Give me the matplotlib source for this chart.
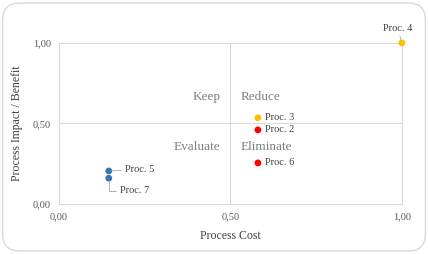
import matplotlib.pyplot as plt
from matplotlib.patches import FancyBboxPatch

# data
names = ['Proc. 4', 'Proc. 3', 'Proc. 2', 'Proc. 6', 'Proc. 5', 'Proc. 7']
cost = [1.00, 0.58, 0.58, 0.58, 0.145, 0.145]
impact = [1.00, 0.535, 0.46, 0.255, 0.205, 0.16]
colors = ['#FFC000', '#FFC000', '#FF0000', '#FF0000', '#3A74B0', '#3A74B0']
quadrants = ['Keep', 'Reduce', 'Evaluate', 'Eliminate']
ticks = [0.0, 0.5, 1.0]
tick_labels = ['0,00', '0,50', '1,00']

plt.rcParams['font.family'] = ['Liberation Serif', 'DejaVu Serif']

fig = plt.figure(figsize=(4.28, 2.54), dpi=100)
border = FancyBboxPatch((0.006, 0.012), 0.988, 0.976,
                        boxstyle='round,pad=0,rounding_size=0.04',
                        transform=fig.transFigure, fc='none', ec='#D9D9D9',
                        lw=1.0, mutation_aspect=428 / 254, zorder=-1)
fig.patches.append(border)

ax = fig.add_axes([0.138, 0.197, 0.801, 0.634])
ax.patch.set_alpha(0)
ax.set_xlim(0, 1)
ax.set_ylim(0, 1)
for s in ax.spines.values():
    s.set_color('#D9D9D9')
    s.set_linewidth(0.8)
ax.axhline(0.5, color='#D9D9D9', lw=0.8)
ax.axvline(0.5, color='#D9D9D9', lw=0.8)

ax.scatter(cost, impact, c=colors, s=15, zorder=3, clip_on=False)

ax.set_xticks(ticks)
ax.set_xticklabels(tick_labels)
ax.set_yticks(ticks)
ax.set_yticklabels(tick_labels)
ax.tick_params(length=0, labelsize=7.5, colors='#595959', pad=6)
ax.set_xlabel('Process Cost', fontsize=8.5, color='#404040', labelpad=6)
ax.set_ylabel('Process Impact / Benefit', fontsize=8.5, color='#404040', labelpad=7)

# quadrant labels
qpos = [(0.47, 0.665, 'right'), (0.53, 0.665, 'left'),
        (0.47, 0.355, 'right'), (0.53, 0.355, 'left')]
for q, (x, y, ha) in zip(quadrants, qpos):
    ax.text(x, y, q, ha=ha, va='center', fontsize=9.5, color='#7F7F7F')

# point labels
tc = '#404040'
fs = 7.5
ax.annotate(names[0], (cost[0], impact[0]), xytext=(-3, 7), textcoords='offset points',
            ha='center', va='bottom', fontsize=fs, color=tc,
            arrowprops=dict(arrowstyle='-', color='#A6A6A6', lw=0.6, shrinkA=0, shrinkB=2))
for i in (1, 2, 3):
    ax.annotate(names[i], (cost[i], impact[i]), xytext=(5, 0), textcoords='offset points',
                ha='left', va='center', fontsize=fs, color=tc)
ax.annotate(names[4], (cost[4], impact[4]), xytext=(12, 1), textcoords='offset points',
            ha='left', va='center', fontsize=fs, color=tc,
            arrowprops=dict(arrowstyle='-', color='#A6A6A6', lw=0.6, shrinkA=1, shrinkB=2))
ax.annotate(names[5], (cost[5], impact[5]), xytext=(8, -9), textcoords='offset points',
            ha='left', va='center', fontsize=fs, color=tc,
            arrowprops=dict(arrowstyle='-', color='#A6A6A6', lw=0.6, shrinkA=1, shrinkB=2,
                            connectionstyle='angle,angleA=0,angleB=90,rad=0'))

fig.savefig('out.png', dpi=100)
